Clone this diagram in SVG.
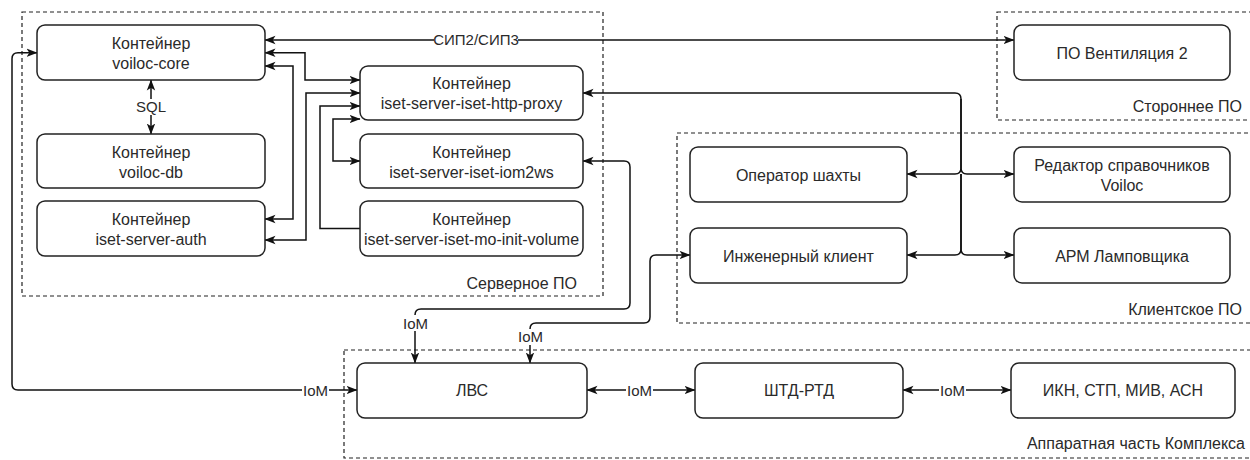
<svg xmlns="http://www.w3.org/2000/svg" width="1250" height="460" viewBox="0 0 1250 460">
<defs>
<marker id="arr" markerUnits="userSpaceOnUse" markerWidth="11" markerHeight="10" viewBox="0 0 11 10" refX="10.5" refY="5" orient="auto-start-reverse">
<path d="M0,0.8 L11,5 L0,9.2 L2.8,5 z" fill="#111"/>
</marker>
<style>
.grp{fill:none;stroke:#222;stroke-width:1.2;stroke-dasharray:4 3}
.box{fill:#fff;stroke:#222;stroke-width:1.5}
.t{font-family:"Liberation Sans",Arial,sans-serif;font-size:16px;fill:#2a2a2a;text-anchor:middle}
.gl{font-family:"Liberation Sans",Arial,sans-serif;font-size:16px;fill:#2a2a2a;text-anchor:end}
.lbl{font-family:"Liberation Sans",Arial,sans-serif;font-size:15px;fill:#2a2a2a;text-anchor:middle}
.e{fill:none;stroke:#111;stroke-width:1.5}
.bi{marker-start:url(#arr);marker-end:url(#arr)}
.one{marker-end:url(#arr)}
.bg{fill:#fff}
</style>
</defs>
<g id="groups">
<g id="grp-server"><rect class="grp" x="22" y="12" width="581" height="284"/><text class="gl" x="577" y="289">Серверное ПО</text></g>
<g id="grp-third"><rect class="grp" x="997" y="12" width="260" height="108"/><text class="gl" x="1242" y="112">Стороннее ПО</text></g>
<g id="grp-client"><rect class="grp" x="677" y="133" width="580" height="190"/><text class="gl" x="1242" y="315">Клиентское ПО</text></g>
<g id="grp-hw"><rect class="grp" x="344" y="350" width="913" height="108"/><text class="gl" x="1245" y="449">Аппаратная часть Комплекса</text></g>
</g>
<g id="connectors">
<path class="e bi" d="M265,40 H1014"/>
<path class="e bi" d="M265,52.7 H305 V80 H360"/>
<path class="e bi" d="M265,66 H293 V219 H265"/>
<path class="e bi" d="M360,93 H306 V240 H265"/>
<path class="e one" d="M360,228.5 H320 V106 H360"/>
<path class="e bi" d="M360,119 H333 V161 H360"/>
<path class="e bi" d="M151,80 V134"/>
<path class="e bi" d="M583,93 H955 Q961,93 961,99 V168 Q961,174 955,174 H907"/>
<path class="e one" d="M961,99 V168 Q961,174 967,174 H1014"/>
<path class="e one" d="M961,174 V249 Q961,255 955,255 H907"/>
<path class="e one" d="M961,174 V249 Q961,255 967,255 H1014"/>
<path class="e bi" d="M583,161 H624 Q630,161 630,167 V303 Q630,309 624,309 H421 Q415,309 415,315 V363"/>
<path class="e bi" d="M690,255 H656 Q650,255 650,261 V317 Q650,323 644,323 H536 Q530,323 530,329 V363"/>
<path class="e bi" d="M37,52.7 H18 Q12,52.7 12,58.7 V384 Q12,390 18,390 H357"/>
<path class="e bi" d="M587,390 H695"/>
<path class="e bi" d="M903,390 H1011"/>
<rect class="bg" x="434" y="32" width="84" height="16"/><text class="lbl" x="476" y="45">СИП2/СИП3</text>
<rect class="bg" x="136" y="99" width="30" height="16"/><text class="lbl" x="151" y="112">SQL</text>
<rect class="bg" x="402" y="315" width="27" height="16"/><text class="lbl" x="415.5" y="328.5">IoM</text>
<rect class="bg" x="517" y="329" width="27" height="16"/><text class="lbl" x="530.5" y="342">IoM</text>
<rect class="bg" x="302" y="382" width="27" height="16"/><text class="lbl" x="315.5" y="395.5">IoM</text>
<rect class="bg" x="626" y="382" width="27" height="16"/><text class="lbl" x="639.5" y="395.5">IoM</text>
<rect class="bg" x="939" y="382" width="27" height="16"/><text class="lbl" x="952.5" y="395.5">IoM</text>
</g>
<g id="node-core"><rect class="box" x="37" y="25" width="228" height="55" rx="8"/><text class="t" x="151" y="49">Контейнер</text><text class="t" x="151" y="69">voiloc-core</text></g>
<g id="node-db"><rect class="box" x="37" y="134" width="228" height="54" rx="8"/><text class="t" x="151" y="157.5">Контейнер</text><text class="t" x="151" y="177.5">voiloc-db</text></g>
<g id="node-auth"><rect class="box" x="37" y="201" width="228" height="55" rx="8"/><text class="t" x="151" y="224.5">Контейнер</text><text class="t" x="151" y="244.5">iset-server-auth</text></g>
<g id="node-proxy"><rect class="box" x="360" y="66" width="223" height="54" rx="8"/><text class="t" x="471.5" y="89">Контейнер</text><text class="t" x="471.5" y="109">iset-server-iset-http-proxy</text></g>
<g id="node-iom2ws"><rect class="box" x="360" y="134" width="223" height="54" rx="8"/><text class="t" x="471.5" y="157.5">Контейнер</text><text class="t" x="471.5" y="177.5">iset-server-iset-iom2ws</text></g>
<g id="node-moinit"><rect class="box" x="360" y="201" width="223" height="55" rx="8"/><text class="t" x="471.5" y="224.5">Контейнер</text><text class="t" x="471.5" y="244.5">iset-server-iset-mo-init-volume</text></g>
<g id="node-vent"><rect class="box" x="1014" y="25" width="216" height="55" rx="8"/><text class="t" x="1122" y="58.5">ПО Вентиляция 2</text></g>
<g id="node-oper"><rect class="box" x="690" y="147" width="217" height="55" rx="8"/><text class="t" x="798.5" y="180.5">Оператор шахты</text></g>
<g id="node-eng"><rect class="box" x="690" y="228" width="217" height="55" rx="8"/><text class="t" x="798.5" y="261.5">Инженерный клиент</text></g>
<g id="node-editor"><rect class="box" x="1014" y="147" width="216" height="55" rx="8"/><text class="t" x="1122" y="171">Редактор справочников</text><text class="t" x="1122" y="191">Voiloc</text></g>
<g id="node-arm"><rect class="box" x="1014" y="228" width="216" height="55" rx="8"/><text class="t" x="1122" y="261.5">АРМ Ламповщика</text></g>
<g id="node-lvs"><rect class="box" x="357" y="363" width="230" height="55" rx="8"/><text class="t" x="472" y="396">ЛВС</text></g>
<g id="node-shtd"><rect class="box" x="695" y="363" width="208" height="55" rx="8"/><text class="t" x="799" y="396">ШТД-РТД</text></g>
<g id="node-ikn"><rect class="box" x="1011" y="363" width="224" height="55" rx="8"/><text class="t" x="1123" y="396">ИКН, СТП, МИВ, АСН</text></g>
</svg>
